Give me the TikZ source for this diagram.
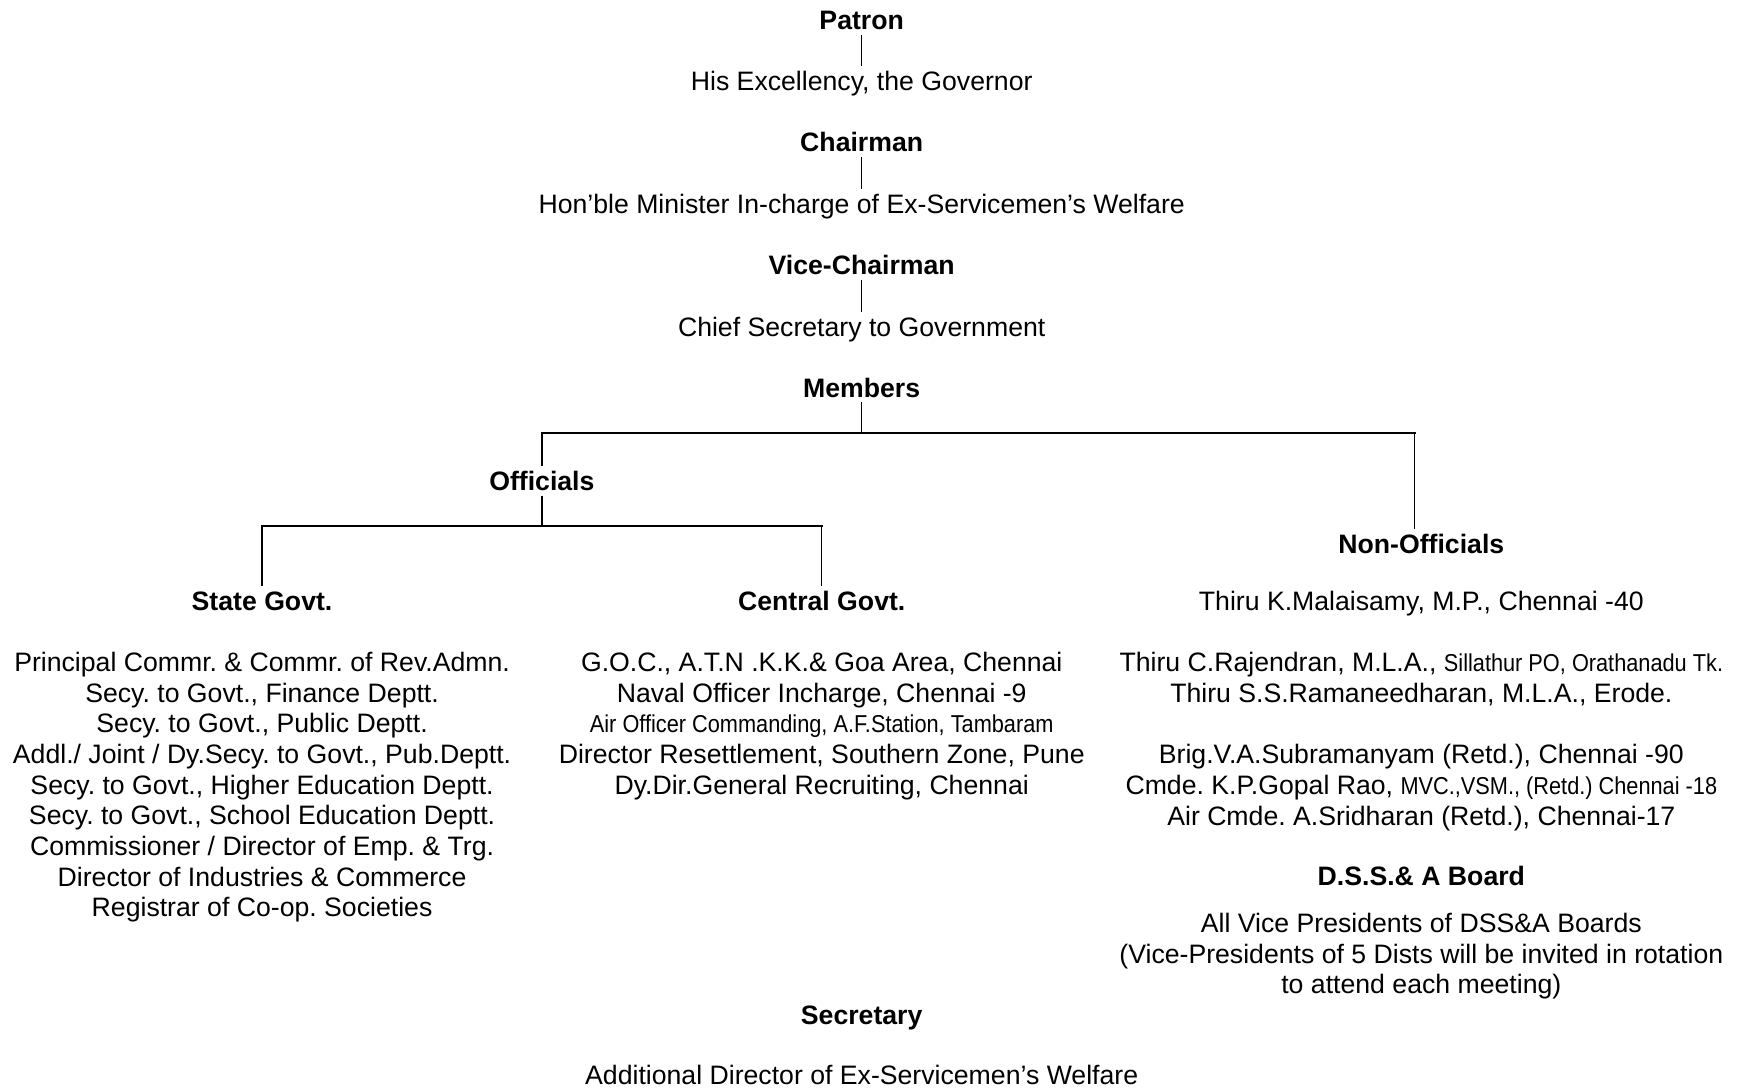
\documentclass[tikz,border=0pt]{standalone}
\usepackage{fontspec}
\setmainfont{Liberation Sans}
\newfontfamily\narrowfont[FakeStretch=0.89]{Liberation Sans}
\newcommand{\nar}[1]{{\narrowfont\fontsize{11}{13.8}\selectfont #1}}
\frenchspacing

\tikzset{
    entry/.style={inner sep=2.2pt,text height=8.6pt,text depth=0pt},
    head/.style={entry,font=\fontsize{12}{13.8}\selectfont\bfseries},
    block/.style={align=center,anchor=north,inner sep=0pt},
    stem/.style={line width=0.6pt},
    rail/.style={line width=1pt,line cap=rect}
}

\begin{document}
\begin{tikzpicture}[x=0.5pt,y=-0.5pt,font=\fontsize{12}{13.8}\selectfont]
        \useasboundingbox (0,0) rectangle (1567,980);

        % top of the chart
        \node[head](patron)at(776,18){Patron};
        \node[entry](governor)at(776,73){His Excellency, the Governor};
        \node[head](chairman)at(776,128){Chairman};
        \node[entry](minister)at(776,184){Hon’ble Minister In-charge of Ex-Servicemen’s Welfare};
        \node[head](vicechair)at(776,239){Vice-Chairman};
        \node[entry](chiefsec)at(776,294){Chief Secretary to Government};
        \node[head](members)at(776,349){Members};

        \draw[stem](patron)--(governor);
        \draw[stem](chairman)--(minister);
        \draw[stem](vicechair)--(chiefsec);

        % members
        \node[head](officials)at(488,433){Officials};
        \node[head](nonoff)at(1280,490){Non-Officials};
        \coordinate(memjoin)at(776,390);
        \coordinate(offjoin)at(488,390);
        \coordinate(nonjoin)at(1274,390);
        \draw[stem](members)--(memjoin);
        \draw[rail](offjoin)--(nonjoin);
        \draw[stem](offjoin)--(officials);
        \draw[stem](nonjoin)--(nonjoin|-nonoff.north);

        % officials
        \node[head](state)at(236,541){State Govt.};
        \node[head](central)at(740,541){Central Govt.};
        \coordinate(statejoin)at(236,474);
        \coordinate(centraljoin)at(740,474);
        \draw[stem](officials)--(officials|-statejoin);
        \draw[rail](statejoin)--(centraljoin);
        \draw[stem](statejoin)--(state);
        \draw[stem](centraljoin)--(central);

        \node[block](statelist)at(236,587){Principal Commr. \& Commr. of Rev.Admn.\\
            Secy. to Govt., Finance Deptt.\\
            Secy. to Govt., Public Deptt.\\
            Addl./ Joint / Dy.Secy. to Govt., Pub.Deptt.\\
            Secy. to Govt., Higher Education Deptt.\\
            Secy. to Govt., School Education Deptt.\\
            Commissioner / Director of Emp. \& Trg.\\
            Director of Industries \& Commerce\\
            Registrar of Co-op. Societies};

        \node[block](centrallist)at(740,587){G.O.C., A.T.N .K.K.\& Goa Area, Chennai\\
            Naval Officer Incharge, Chennai -9\\
            \nar{Air Officer Commanding, A.F.Station, Tambaram}\\
            Director Resettlement, Southern Zone, Pune\\
            Dy.Dir.General Recruiting, Chennai};

        % non-officials
        \node[block](nonofflist)at(1280,532){Thiru K.Malaisamy, M.P., Chennai -40\\[13.8pt]
            Thiru C.Rajendran, M.L.A., \nar{Sillathur PO, Orathanadu Tk.}\\
            Thiru S.S.Ramaneedharan, M.L.A., Erode.\\[13.8pt]
            Brig.V.A.Subramanyam (Retd.), Chennai -90\\
            Cmde. K.P.Gopal Rao, \nar{MVC.,VSM., (Retd.) Chennai -18}\\
            Air Cmde. A.Sridharan (Retd.), Chennai-17};

        \node[head](board)at(1280,789){D.S.S.\& A Board};
        \node[block](boardlist)at(1280,822){All Vice Presidents of DSS\&A Boards\\
            (Vice-Presidents of 5 Dists will be invited in rotation\\
            to attend each meeting)};

        % secretary
        \node[head](secretary)at(776,914){Secretary};
        \node[entry](adddir)at(776,968){Additional Director of Ex-Servicemen’s Welfare};
    \end{tikzpicture}
\end{document}
